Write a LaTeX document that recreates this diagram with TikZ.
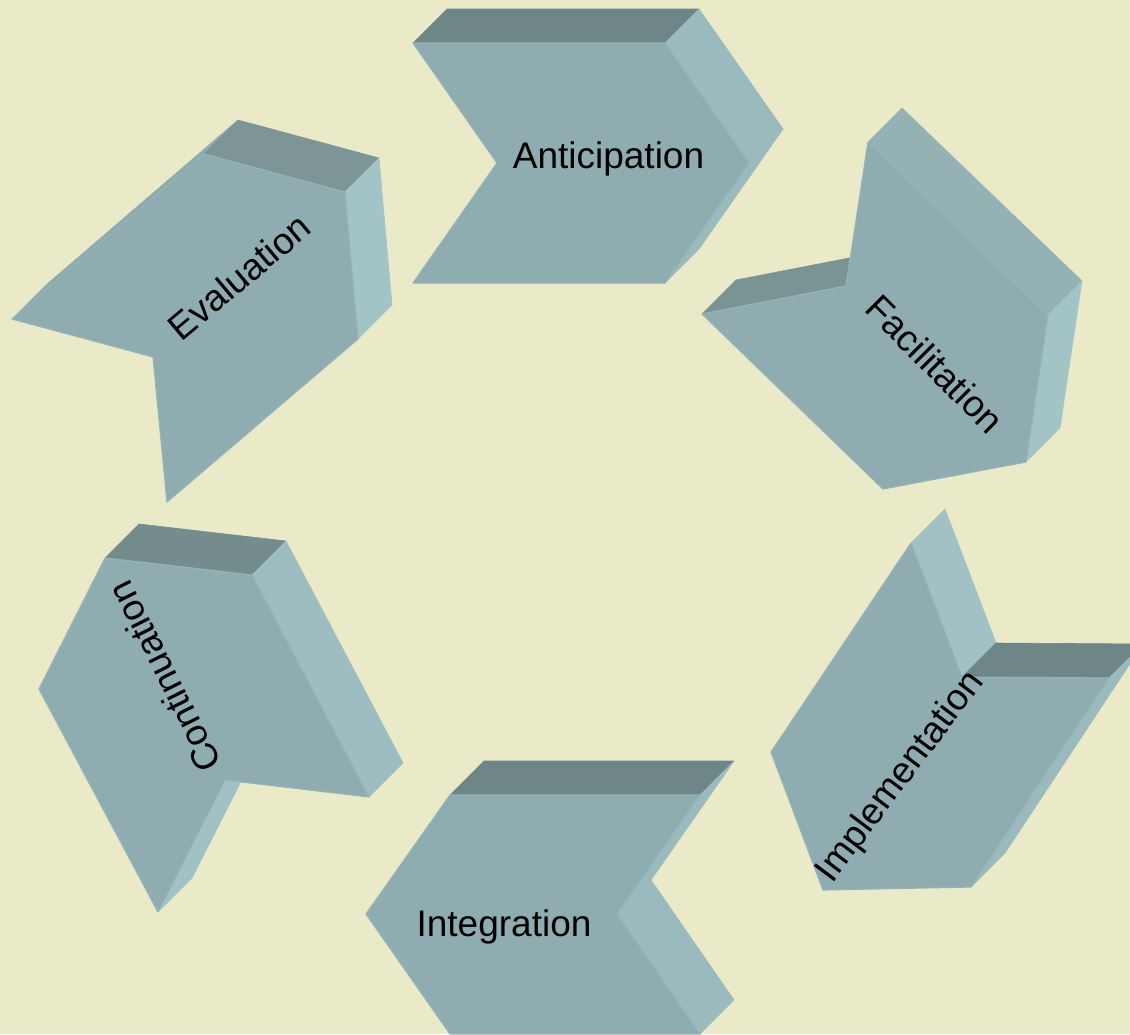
\documentclass[tikz,border=0pt]{standalone}
\usepackage{fontspec}
\setmainfont{Liberation Sans}
\definecolor{bgc}{HTML}{EAEAC8}
\definecolor{frontc}{HTML}{8FADB0}
\definecolor{edgec}{HTML}{95B4B8}
\definecolor{darkA}{HTML}{6F8688}
\definecolor{lightA}{HTML}{9BBABD}
\definecolor{facTop}{HTML}{94B1B3}
\definecolor{facDark}{HTML}{7A9394}
\definecolor{lightB}{HTML}{A3C4C7}
\definecolor{evaDark}{HTML}{7D9597}
\definecolor{sliver}{HTML}{8EACAF}
\definecolor{conDark}{HTML}{748C8E}
\definecolor{conLight}{HTML}{9DBDC0}
\definecolor{impLight}{HTML}{A1C1C4}
\begin{document}
\begin{tikzpicture}[x=1pt,y=-1pt,
  face/.style={fill=#1, draw=#1, line width=0.6pt, line join=round},
  frontface/.style={fill=frontc, draw=edgec, line width=1.2pt, line join=round},
  lbl/.style={font=\fontsize{37}{42}\selectfont, inner sep=0pt, text height=26.5pt, text depth=0pt}]
\useasboundingbox (0,0) rectangle (1130,1034);
\fill[bgc] (0,0) rectangle (1130,1034);
\clip (0,0) rectangle (1130,1034);

% Anticipation
\path[face=darkA] (413,43) -- (665,43) -- (699,9) -- (447,9) -- cycle;
\path[face=lightA] (665,43) -- (749,163) -- (783,129) -- (699,9) -- cycle;
\path[face=lightA] (749,163) -- (665,283) -- (699,249) -- (783,129) -- cycle;
\path[frontface] (413,43) -- (665,43) -- (749,163) -- (665,283) -- (413,283) -- (497,163) -- cycle;
\node[lbl] (ant) at (608.5,155.5) {Anticipation};

% Facilitation
\path[face=facTop] (868,142) -- (1048,315) -- (1082,281) -- (902,108) -- cycle;
\path[face=lightB] (1048,315) -- (1026,462) -- (1060,428) -- (1082,281) -- cycle;
\path[face=facDark] (702,314) -- (846,286) -- (880,252) -- (736,280) -- cycle;
\path[frontface] (868,142) -- (1048,315) -- (1026,462) -- (883,489) -- (702,314) -- (846,286) -- cycle;
\node[lbl, rotate=-45] (fac) at (935,364) {Facilitation};

% Evaluation
\path[face=sliver] (12,319) -- (204,154) -- (238,120) -- (46,285) -- cycle;
\path[face=evaDark] (204,154) -- (345,192) -- (379,158) -- (238,120) -- cycle;
\path[face=lightB] (345,192) -- (358,339) -- (392,305) -- (379,158) -- cycle;
\path[frontface] (204,154) -- (345,192) -- (358,339) -- (167,502) -- (153,357) -- (12,319) -- cycle;
\node[lbl, rotate=40] (eva) at (239,277) {Evaluation};

% Continuation
\path[face=conDark] (105,558) -- (252,575) -- (286,541) -- (139,524) -- cycle;
\path[face=conLight] (252,575) -- (369,797) -- (403,763) -- (286,541) -- cycle;
\path[face=impLight] (225,780) -- (158,912) -- (192,878) -- (259,746) -- cycle;
\path[frontface] (105,558) -- (252,575) -- (369,797) -- (225,780) -- (158,912) -- (39,689) -- cycle;
\node[lbl, rotate=116.6] (con) at (164,677) {Continuation};

% Implementation
\path[face=impLight] (911,543) -- (962,677) -- (996,643) -- (945,509) -- cycle;
\path[face=darkA] (962,677) -- (1109,678) -- (1143,644) -- (996,643) -- cycle;
\path[face=lightA] (1109,678) -- (971,887) -- (1005,853) -- (1143,644) -- cycle;
\path[frontface] (911,543) -- (962,677) -- (1109,678) -- (971,887) -- (823,890) -- (771,752) -- cycle;
\node[lbl, rotate=53] (imp) at (898,775) {Implementation};

% Integration
\path[face=darkA] (450,795) -- (700,795) -- (734,761) -- (484,761) -- cycle;
\path[face=lightA] (700,795) -- (617,914) -- (651,880) -- (734,761) -- cycle;
\path[face=lightA] (617,914) -- (700,1034) -- (734,1000) -- (651,880) -- cycle;
\path[frontface] (450,795) -- (700,795) -- (617,914) -- (700,1034) -- (450,1034) -- (366,914) -- cycle;
\node[lbl] (int) at (504,923.5) {Integration};
\end{tikzpicture}
\end{document}
